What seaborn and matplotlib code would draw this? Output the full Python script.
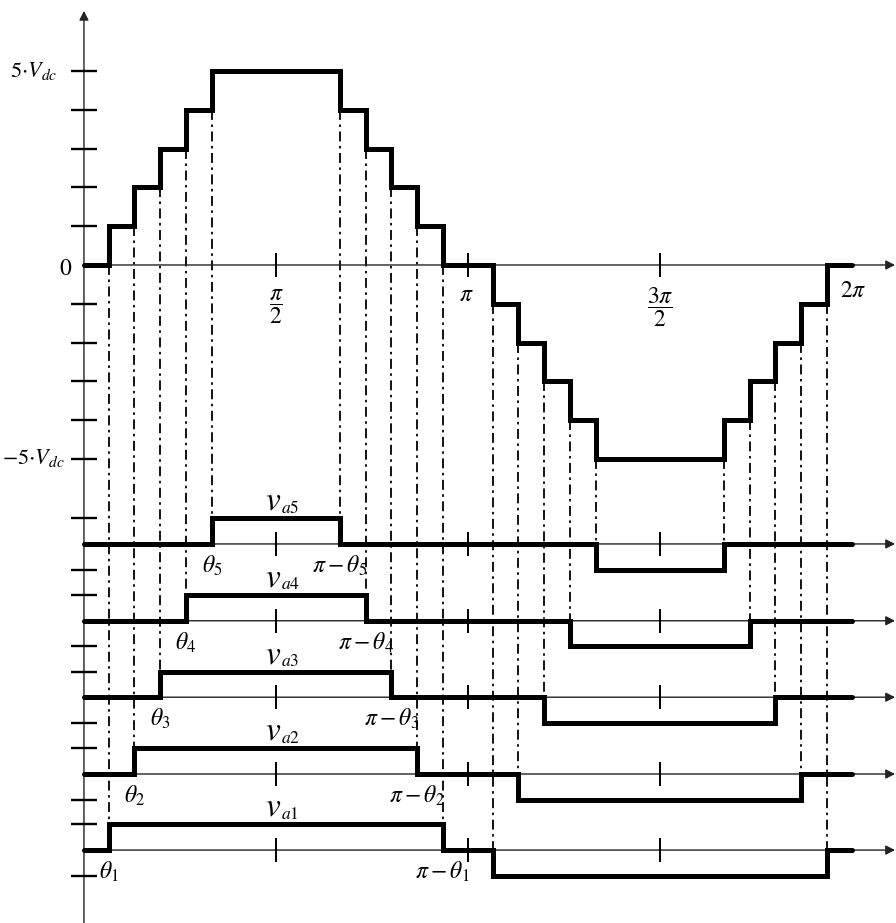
import numpy as np
import pandas as pd
import matplotlib
matplotlib.use("Agg")
import matplotlib.pyplot as plt
import seaborn as sns

# ---------------------------------------------------------------- data
# switching angles of the five H-bridge cells (rad)
theta = [0.205, 0.413, 0.626, 0.835, 1.047]
# phase voltage level (x Vdc) held after each switching instant
phase_levels = [0, 1, 2, 3, 4, 5, 4, 3, 2, 1, 0,
                -1, -2, -3, -4, -5, -4, -3, -2, -1, 0, 0]
# one cell's output held after 0, θk, π-θk, π+θk, 2π-θk, 2π
cell_levels = [0, 1, 0, -1, 0, 0]
cell_names = ["1", "2", "3", "4", "5"]
level_ticks = [-5, -4, -3, -2, -1, 1, 2, 3, 4, 5]
angle_ticks = [np.pi / 2, np.pi, 3 * np.pi / 2]
angle_tick_labels = [r"$\dfrac{\pi}{2}$", r"$\pi$", r"$\dfrac{3\pi}{2}$", r"$2\pi$"]
level_labels = [r"$5{\cdot}V_{dc}$", r"$0$", r"$-5{\cdot}V_{dc}$"]

TWO_PI = 2 * np.pi

# ---------------------------------------------------------------- layout
cell_base = [-15.08, -13.12, -11.14, -9.17, -7.19]   # baseline of each cell trace
cell_amp = 0.66                                       # drawn height of ±1 Vdc in a cell trace
XLIM = (-0.687, 6.645)
YLIM = (-16.96, 6.83)
X_TIP = 6.637
Y_TIP = 6.55

plt.rcParams["mathtext.fontset"] = "stix"
plt.rcParams["font.family"] = ["STIXGeneral", "DejaVu Sans"]

fig = plt.figure(figsize=(8.96, 9.23), dpi=100)
ax = fig.add_axes([0, 0, 1, 1])
ax.set_xlim(*XLIM)
ax.set_ylim(*YLIM)
ax.set_axis_off()

AX_COLOR = "#222222"
arrow_props = dict(arrowstyle="-|>,head_length=0.55,head_width=0.28",
                   color=AX_COLOR, lw=1.0, shrinkA=0, shrinkB=0)

# vertical axis
ax.annotate("", xy=(0, Y_TIP), xytext=(0, YLIM[0]), arrowprops=arrow_props)
# horizontal axes: phase voltage and the five cells
for y0 in [0] + cell_base:
    ax.annotate("", xy=(X_TIP, y0), xytext=(0, y0), arrowprops=arrow_props)
    ax.plot(angle_ticks, [y0] * len(angle_ticks), ls="none", marker="|",
            ms=17, mew=1.4, color="k", zorder=3)

# level ticks on the vertical axis
ax.plot([0] * len(level_ticks), level_ticks, ls="none", marker="_",
        ms=19, mew=1.7, color="k", zorder=3)
cell_ticks = [b + s * cell_amp for b in cell_base for s in (1, -1)]
ax.plot([0] * len(cell_ticks), cell_ticks, ls="none", marker="_",
        ms=19, mew=1.7, color="k", zorder=3)

# switching instants
th = np.array(theta)
phase_x = np.concatenate([[0], th, np.pi - th[::-1], np.pi + th,
                          TWO_PI - th[::-1], [TWO_PI]])
phase_df = pd.DataFrame({"angle": phase_x, "level": phase_levels})

# dash-dot projections from the staircase to each cell's switching edge
dashdot = (0, (5.5, 2.5, 1.4, 2.5))
for k, t in enumerate(theta):
    b = cell_base[k]
    top = b + cell_amp
    for x, y_hi, y_lo in [(t, k, top), (np.pi - t, k, top),
                          (np.pi + t, -(k + 1), b), (TWO_PI - t, -(k + 1), b)]:
        ax.plot([x, x], [y_hi, y_lo], color="k", lw=1.3, ls=dashdot, zorder=2)

# staircase phase voltage
sns.lineplot(data=phase_df, x="angle", y="level", drawstyle="steps-post",
             estimator=None, sort=False, color="k", lw=3.6,
             solid_capstyle="round", solid_joinstyle="miter",
             legend=False, ax=ax, zorder=5)

# individual cell voltages
for k, t in enumerate(theta):
    cx = [0, t, np.pi - t, np.pi + t, TWO_PI - t, TWO_PI]
    cy = [cell_base[k] + cell_amp * v for v in cell_levels]
    cell_df = pd.DataFrame({"angle": cx, "v": cy})
    sns.lineplot(data=cell_df, x="angle", y="v", drawstyle="steps-post",
                 estimator=None, sort=False, color="k", lw=3.6,
                 solid_capstyle="round", solid_joinstyle="miter",
                 legend=False, ax=ax, zorder=5)

    b = cell_base[k]
    ax.annotate(r"$v$", xy=(np.pi / 2, b + 0.88), xytext=(-2.0, 0),
                textcoords="offset points", ha="center", va="baseline",
                fontsize=24)
    ax.annotate(r"$a" + cell_names[k] + "$", xy=(np.pi / 2, b + 0.88),
                xytext=(3.4, -2.0), textcoords="offset points", ha="left",
                va="baseline", fontsize=12.5)
    ax.text(t, b - 0.74, r"$\theta_{" + cell_names[k] + "}$", ha="center",
            va="baseline", fontsize=17)
    ax.text(np.pi - t, b - 0.74, r"$\pi-\theta_{" + cell_names[k] + "}$",
            ha="center", va="baseline", fontsize=17)

# angle labels on the phase axis
ax.text(angle_ticks[0], -1.08, angle_tick_labels[0], ha="center", va="center", fontsize=17)
ax.text(angle_ticks[1] - 0.01, -0.77, angle_tick_labels[1], ha="center", va="center", fontsize=17)
ax.text(angle_ticks[2], -1.08, angle_tick_labels[2], ha="center", va="center", fontsize=17)
ax.text(TWO_PI + 0.015, -0.67, angle_tick_labels[3], ha="center", va="center", fontsize=17)

# level labels on the vertical axis
ax.text(-0.213, 4.845, level_labels[0], ha="right", va="baseline", fontsize=16)
ax.text(-0.098, -0.258, level_labels[1], ha="right", va="baseline", fontsize=17)
ax.text(-0.155, -5.13, level_labels[2], ha="right", va="baseline", fontsize=16)

fig.savefig("out.png", dpi=100)
